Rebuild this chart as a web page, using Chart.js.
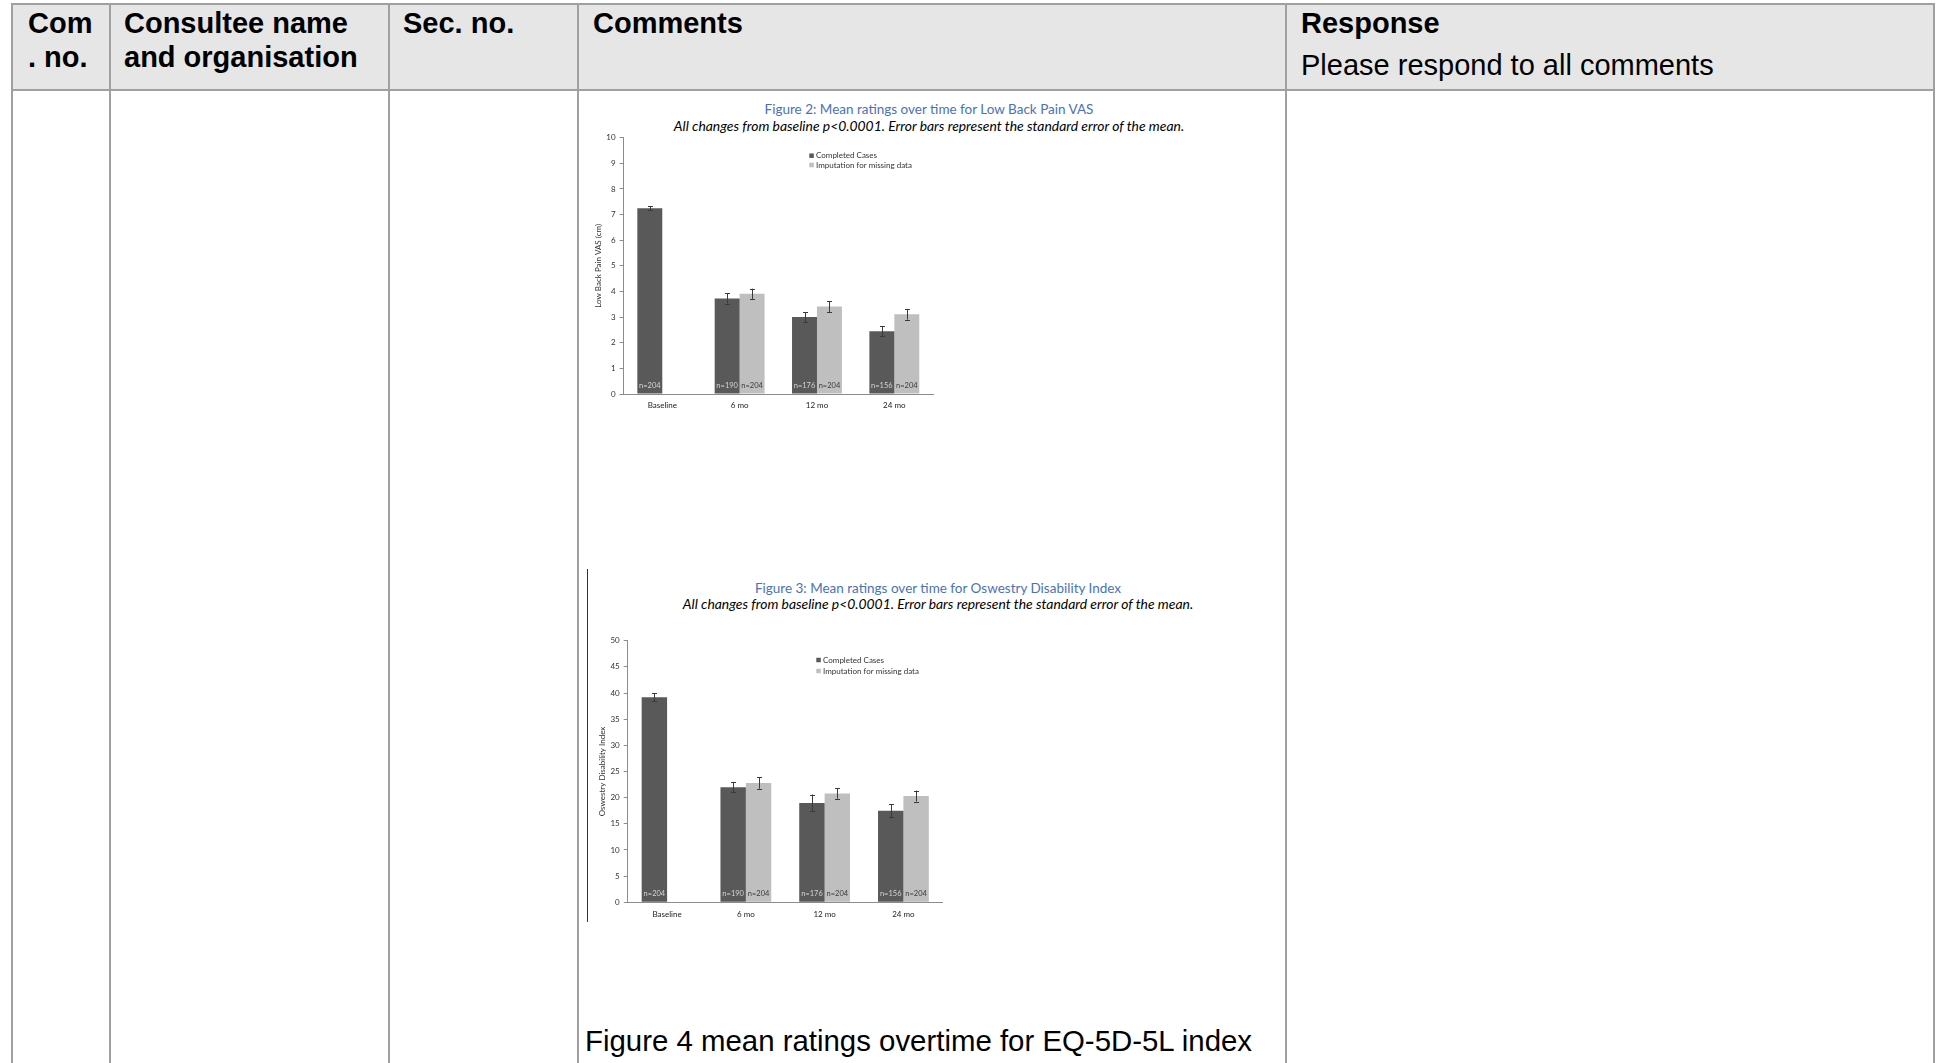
<!DOCTYPE html>
<html>
<head>
<meta charset="utf-8">
<script src="https://cdn.jsdelivr.net/npm/chart.js@4.4.0/dist/chart.umd.min.js"></script>
<style>
  html, body { margin: 0; padding: 0; background: #fff; }
  body { width: 1941px; height: 1063px; position: relative; overflow: hidden;
         font-family: "Liberation Sans", Arial, sans-serif; color: #000; }
  .hline { position: absolute; height: 2px; background: #a0a0a0; left: 11px; width: 1924px; }
  .vline { position: absolute; width: 2px; background: #a0a0a0; top: 3px; bottom: 0; }
  .head { position: absolute; font-size: 29px; line-height: 33.5px; white-space: nowrap; }
  .bold { font-weight: bold; }
  .fig-title { position: absolute; width: 700px; text-align: center; font-family: Lato, sans-serif;
               font-size: 13.5px; line-height: 16px; white-space: nowrap; color: #4a72b8; }
  .fig-sub { position: absolute; width: 700px; text-align: center; font-family: Lato, sans-serif;
             font-size: 13.9px; line-height: 16px; white-space: nowrap; font-style: italic; }
  canvas { position: absolute; }
</style>
</head>
<body>
<!-- table frame -->
<div style="position:absolute;left:12px;top:4px;width:1922px;height:86px;background:#e6e6e6;"></div>
<div class="hline" style="top:3px"></div>
<div class="hline" style="top:89px"></div>
<div class="vline" style="left:11px"></div>
<div class="vline" style="left:109px"></div>
<div class="vline" style="left:388px"></div>
<div class="vline" style="left:577px"></div>
<div class="vline" style="left:1285px"></div>
<div class="vline" style="left:1933px"></div>

<div class="head bold" style="left:28px;top:7px">Com<br>. no.</div>
<div class="head bold" style="left:124px;top:7px">Consultee name<br>and organisation</div>
<div class="head bold" style="left:403px;top:7px">Sec. no.</div>
<div class="head bold" style="left:593px;top:7px">Comments</div>
<div class="head bold" style="left:1301px;top:7px">Response</div>
<div class="head" style="left:1301px;top:49px">Please respond to all comments</div>

<!-- figure 2 -->
<div class="fig-title" style="left:579px;top:101px">Figure 2: Mean ratings over time for Low Back Pain VAS</div>
<div class="fig-sub" style="left:579px;top:118px">All changes from baseline p&lt;0.0001. Error bars represent the standard error of the mean.</div>
<canvas id="vasChart" width="360" height="303" style="left:590px;top:122px"></canvas>

<!-- figure 3 -->
<div style="position:absolute;left:587px;top:569px;width:1px;height:353px;background:#333"></div>
<div class="fig-title" style="left:588px;top:580px">Figure 3: Mean ratings over time for Oswestry Disability Index</div>
<div class="fig-sub" style="left:588px;top:596px">All changes from baseline p&lt;0.0001. Error bars represent the standard error of the mean.</div>
<canvas id="odiChart" width="370" height="308" style="left:592px;top:625px"></canvas>

<div class="head" style="left:585px;top:1024px;font-size:29.4px">Figure 4 mean ratings overtime for EQ-5D-5L index</div>

<script>
// shared categories and sample sizes
const categories = ['Baseline', '6 mo', '12 mo', '24 mo'];
const nCompleted = [204, 190, 176, 156];
const nImputed = [null, 204, 204, 204];

// Figure 2: Low Back Pain VAS (cm)
const vasCompleted = [7.25, 3.73, 3.0, 2.45];
const vasCompletedErr = [0.07, 0.2, 0.2, 0.2];
const vasImputed = [null, 3.91, 3.41, 3.11];
const vasImputedErr = [null, 0.2, 0.21, 0.21];

// Figure 3: Oswestry Disability Index
const odiCompleted = [39.2, 22.0, 19.0, 17.5];
const odiCompletedErr = [0.75, 1.0, 1.6, 1.2];
const odiImputed = [null, 22.8, 20.8, 20.3];
const odiImputedErr = [null, 1.1, 1.0, 1.05];

Chart.defaults.font.family = 'Lato, sans-serif';

const errorBars = {
  id: 'errorBars',
  afterDatasetsDraw(chart) {
    const ctx = chart.ctx, y = chart.scales.y;
    ctx.save();
    ctx.strokeStyle = '#3a3a3a';
    ctx.lineWidth = 1;
    chart.data.datasets.forEach((ds, i) => {
      chart.getDatasetMeta(i).data.forEach((bar, j) => {
        const v = ds.data[j], e = ds.errors[j];
        if (v == null || e == null) return;
        const top = y.getPixelForValue(v + e), bot = y.getPixelForValue(v - e);
        const x = Math.round(bar.x) + 0.5;
        ctx.beginPath();
        ctx.moveTo(x, top); ctx.lineTo(x, bot);
        ctx.moveTo(x - 2.5, Math.round(top) + 0.5); ctx.lineTo(x + 2.5, Math.round(top) + 0.5);
        ctx.moveTo(x - 2.5, Math.round(bot) + 0.5); ctx.lineTo(x + 2.5, Math.round(bot) + 0.5);
        ctx.stroke();
      });
    });
    ctx.restore();
  }
};

const countLabels = {
  id: 'countLabels',
  afterDatasetsDraw(chart) {
    const ctx = chart.ctx, base = chart.scales.y.getPixelForValue(0);
    ctx.save();
    ctx.font = '7.5px Lato, sans-serif';
    ctx.textAlign = 'center';
    ctx.textBaseline = 'middle';
    chart.data.datasets.forEach((ds, i) => {
      chart.getDatasetMeta(i).data.forEach((bar, j) => {
        if (ds.counts[j] == null) return;
        ctx.fillStyle = ds.countColor;
        ctx.fillText('n=' + ds.counts[j], bar.x, base - 8.5);
      });
    });
    ctx.restore();
  }
};

const innerLegend = {
  id: 'innerLegend',
  afterDraw(chart, args, opts) {
    const { ctx, chartArea } = chart;
    ctx.save();
    ctx.font = '8px Lato, sans-serif';
    ctx.textBaseline = 'middle';
    chart.data.datasets.forEach((ds, i) => {
      const x = chartArea.left + opts.x;
      const y = chartArea.top + opts.y + i * opts.gap;
      ctx.fillStyle = ds.backgroundColor;
      ctx.fillRect(x, y - 2.25, 4.5, 4.5);
      ctx.fillStyle = '#333';
      ctx.fillText(ds.label, x + 6.7, y);
    });
    ctx.restore();
  }
};

function barChart(id, s) {
  return new Chart(document.getElementById(id), {
    type: 'bar',
    data: {
      labels: categories,
      datasets: [
        { label: 'Completed Cases', data: s.completed, errors: s.completedErr, counts: nCompleted,
          backgroundColor: '#595959', countColor: '#d4d4d4' },
        { label: 'Imputation for missing data', data: s.imputed, errors: s.imputedErr, counts: nImputed,
          backgroundColor: '#bfbfbf', countColor: '#3c3c3c' }
      ]
    },
    options: {
      responsive: false,
      animation: false,
      devicePixelRatio: 1,
      layout: { padding: s.padding },
      datasets: { bar: { categoryPercentage: 0.645, barPercentage: 1 } },
      plugins: {
        legend: { display: false },
        tooltip: { enabled: false },
        innerLegend: s.legend
      },
      scales: {
        x: {
          grid: { display: false, drawTicks: false },
          border: { display: true, color: '#8c8c8c' },
          ticks: { padding: 7, color: '#222', font: { size: 8 } },
          afterFit: sc => { sc.height = s.xHeight; }
        },
        y: {
          min: 0, max: s.max,
          ticks: { stepSize: s.step, padding: 4, color: '#333', font: { size: 8 } },
          grid: { drawOnChartArea: false, drawTicks: true, tickLength: 4, color: '#8c8c8c' },
          border: { display: true, color: '#8c8c8c' },
          title: { display: true, text: s.yTitle, color: '#333', font: { size: 8 },
                   padding: { top: s.yTitlePad, bottom: 0 } },
          afterFit: sc => { sc.width = s.yWidth; }
        }
      }
    },
    plugins: [errorBars, countLabels, innerLegend]
  });
}

barChart('vasChart', {
  completed: vasCompleted, completedErr: vasCompletedErr,
  imputed: vasImputed, imputedErr: vasImputedErr,
  max: 10, step: 1, yTitle: 'Low Back Pain VAS (cm)',
  padding: { left: 0, top: 15.7, right: 17, bottom: 0 },
  yWidth: 33.6, xHeight: 31, yTitlePad: 3.9,
  legend: { x: 185.7, y: 18, gap: 9.3 }
});

barChart('odiChart', {
  completed: odiCompleted, completedErr: odiCompletedErr,
  imputed: odiImputed, imputedErr: odiImputedErr,
  max: 50, step: 5, yTitle: 'Oswestry Disability Index',
  padding: { left: 0, top: 15.7, right: 19.2, bottom: 0 },
  yWidth: 35.7, xHeight: 30.7, yTitlePad: 6,
  legend: { x: 188.6, y: 19.3, gap: 11 }
});
</script>
</body>
</html>
